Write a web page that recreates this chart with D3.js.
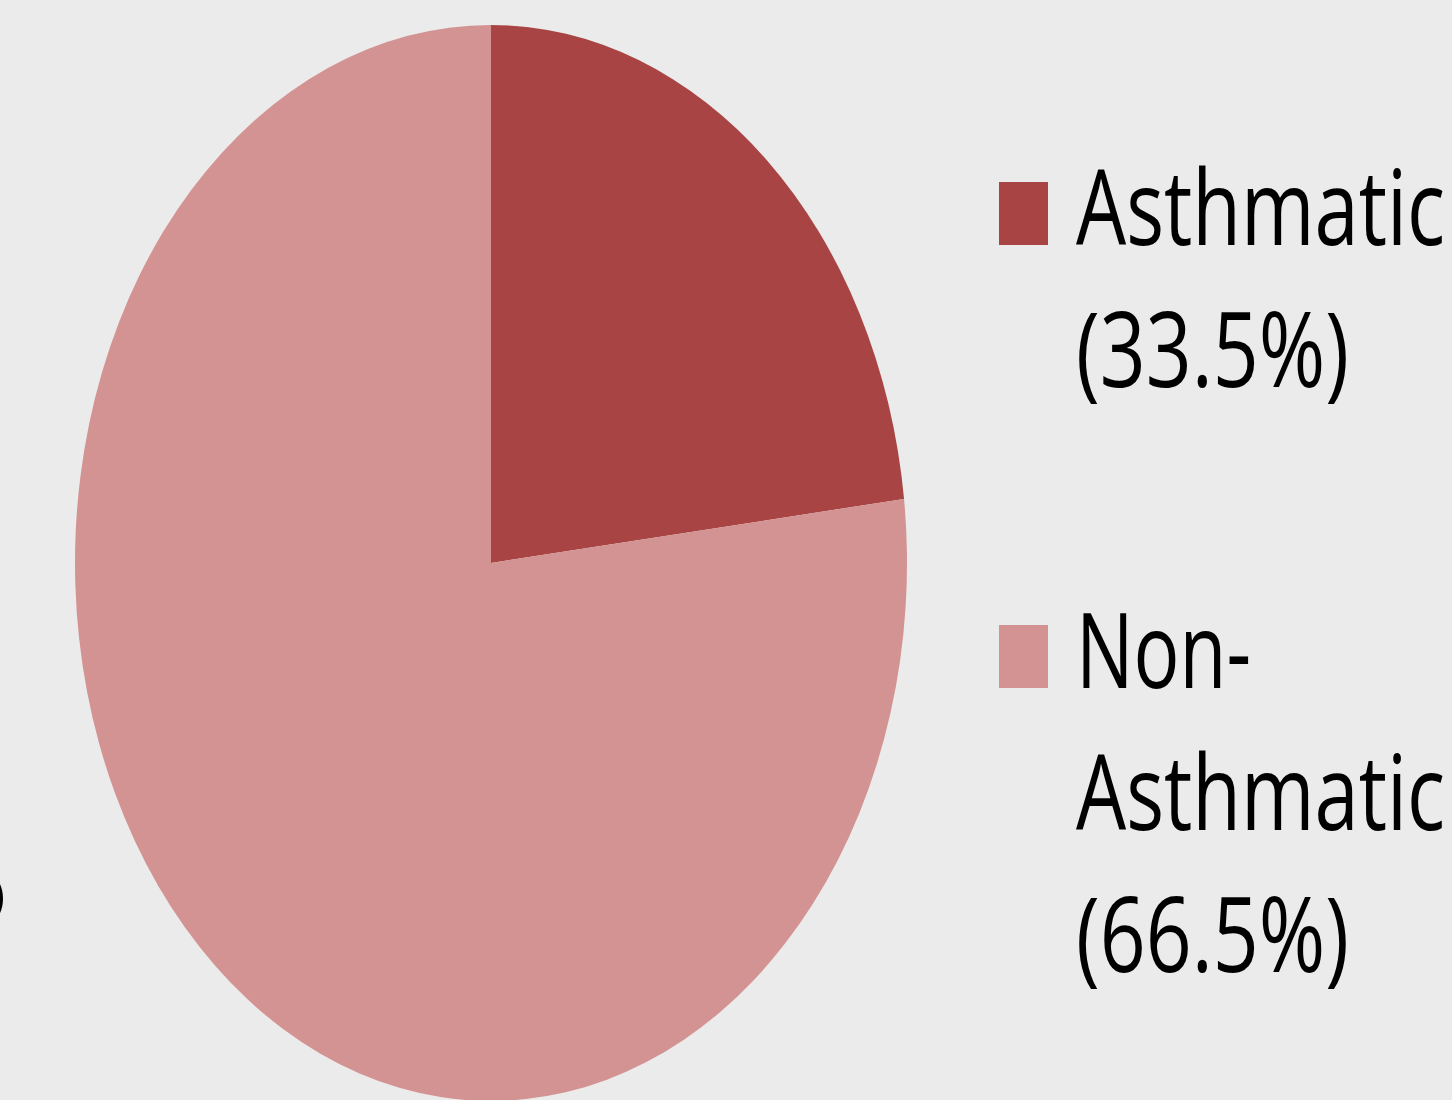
<!DOCTYPE html>
<html><head><meta charset="utf-8">
<script src="https://cdn.jsdelivr.net/npm/d3@7"></script>
<style>html,body{margin:0;padding:0;background:#EBEBEB;overflow:hidden}</style>
</head><body>
<svg id="c" width="1452" height="1100"></svg>
<script>
const categories = ["Asthmatic", "Non-Asthmatic"];
const sliceValues = [23.1, 76.9];
const legendLines = [["Asthmatic", "(33.5%)"], ["Non-", "Asthmatic", "(66.5%)"]];
const colors = ["#A84544", "#D39392"];

const svg = d3.select("#c");
svg.append("rect").attr("width",1452).attr("height",1100).attr("fill","#EBEBEB");

const cx = 491, cy = 563, rx = 416, ry = 538;
const pie = d3.pie().sort(null).value(d => d);
const arc = d3.arc().innerRadius(0).outerRadius(rx);
const g = svg.append("g").attr("transform", `translate(${cx},${cy}) scale(1,${ry/rx})`);
g.selectAll("path").data(pie(sliceValues)).join("path")
  .attr("d", arc).attr("fill", (d,i) => colors[i]);

// clipped text fragment at left edge
svg.append("text").attr("x", 5).attr("y", 912).attr("text-anchor","end")
  .attr("font-family","'Open Sans', sans-serif").attr("font-size", 50).attr("fill","#000").text(")");

const font = "'Open Sans', 'Noto Sans', sans-serif";
const legendTop = [245, 688];
const lineGap = 142;
const widths = {"Asthmatic": 369, "(33.5%)": 273, "(66.5%)": 273, "Non-": 175};
const lg = svg.append("g");
categories.forEach((c, i) => {
  lg.append("rect").attr("x", 999).attr("y", legendTop[i] - 63).attr("width", 49).attr("height", 63)
    .attr("fill", colors[i]);
  legendLines[i].forEach((t, j) => {
    lg.append("text").attr("x", 1076).attr("y", legendTop[i] + j*lineGap)
      .attr("font-family", font).attr("font-size", 104).attr("font-weight", 500).attr("fill", "#000")
      .attr("textLength", widths[t]).attr("lengthAdjust", "spacingAndGlyphs")
      .text(t);
  });
});
</script>
</body></html>
